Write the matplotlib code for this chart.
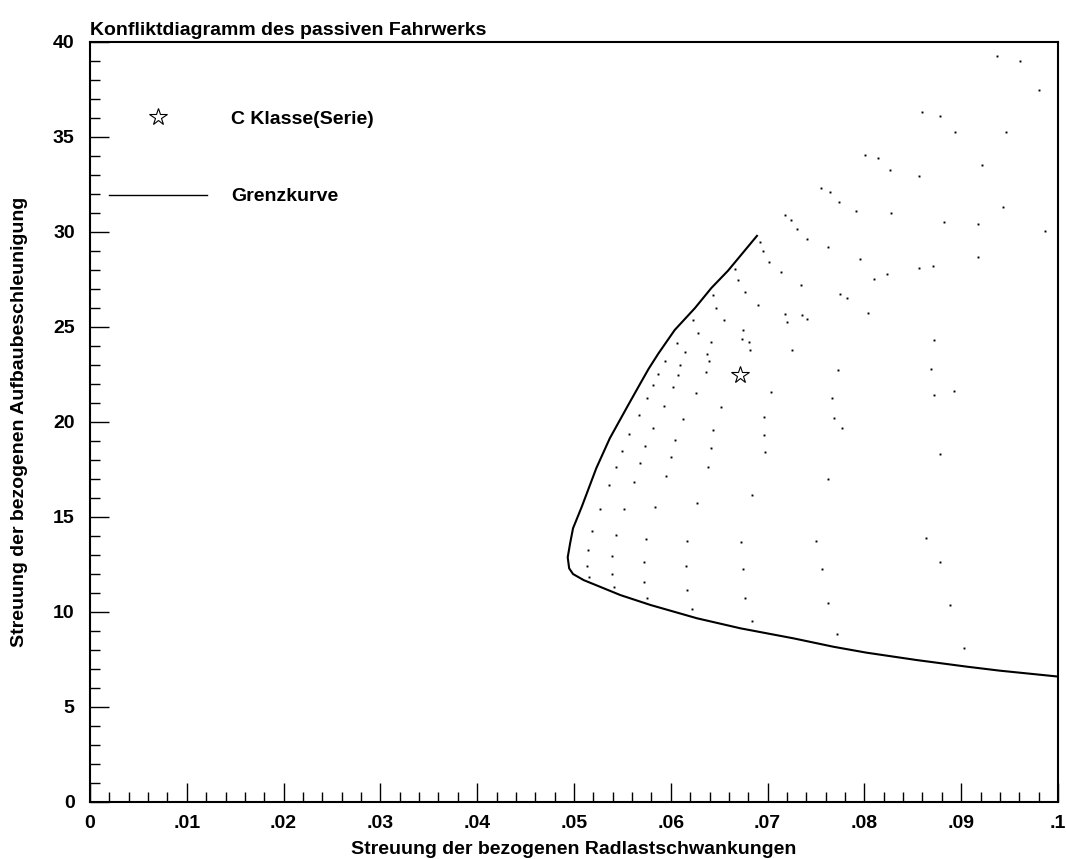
import matplotlib
matplotlib.use("Agg")
import matplotlib.pyplot as plt
from matplotlib.lines import Line2D
from matplotlib.ticker import MultipleLocator, FuncFormatter

plt.rcParams["font.family"] = ["Liberation Sans", "DejaVu Sans"]
plt.rcParams["font.weight"] = "bold"

# ── Data ─────────────────────────────────────────────────────────────────────
# Grenzkurve (limit curve)
curve_x = [0.0689, 0.0659, 0.0642, 0.0625, 0.0604, 0.0587, 0.0577, 0.0568,
           0.0556, 0.0537, 0.0523, 0.0508, 0.0499, 0.0496, 0.04935, 0.0495,
           0.0499, 0.0510, 0.0548, 0.0579, 0.0627, 0.0672, 0.0727, 0.0768,
           0.0802, 0.0854, 0.0906, 0.0940, 0.1000]
curve_y = [29.79, 27.95, 27.05, 25.99, 24.83, 23.58, 22.78, 21.97,
           20.88, 19.13, 17.55, 15.52, 14.39, 13.60, 12.86, 12.28,
           11.98, 11.66, 10.87, 10.35, 9.65, 9.12, 8.59, 8.15,
           7.84, 7.45, 7.10, 6.89, 6.58]

# C Klasse (Serie) operating point
serie_x = [0.0671]
serie_y = [22.46]

# scattered parameter variations (small dots)
dots_x = [0.09367, 0.09607, 0.09804, 0.08595, 0.08781, 0.08933, 0.09463, 0.08006,
          0.08144, 0.08264, 0.08564, 0.09218, 0.07549, 0.07645, 0.07734, 0.07913,
          0.08278, 0.08822, 0.09170, 0.09432, 0.09866, 0.07410, 0.07624, 0.07951,
          0.08561, 0.08709, 0.08237, 0.08099, 0.07348, 0.07748, 0.07823, 0.08040,
          0.07352, 0.07410, 0.08719, 0.07730, 0.08691, 0.08929, 0.08716, 0.07668,
          0.07686, 0.07772, 0.08784, 0.07627, 0.09170, 0.07500, 0.08633, 0.08778,
          0.07565, 0.07624, 0.08887, 0.07717, 0.09032, 0.07183, 0.07245, 0.07304,
          0.06918, 0.06956, 0.07014, 0.07138, 0.06666, 0.06697, 0.06767, 0.06433,
          0.06470, 0.06898, 0.07177, 0.07200, 0.06229, 0.06553, 0.06281, 0.06749,
          0.06739, 0.06061, 0.06418, 0.06808, 0.07255, 0.06815, 0.06150, 0.06377,
          0.06395, 0.05937, 0.06095, 0.05865, 0.06071, 0.06367, 0.05819, 0.06026,
          0.06257, 0.07035, 0.05757, 0.05927, 0.06519, 0.05668, 0.06126, 0.06963,
          0.05813, 0.06439, 0.05568, 0.06046, 0.06960, 0.05737, 0.06415, 0.06970,
          0.05493, 0.06002, 0.05685, 0.05434, 0.06387, 0.05950, 0.05620, 0.05358,
          0.06839, 0.06268, 0.05265, 0.05513, 0.05840, 0.05186, 0.05434, 0.05747,
          0.06167, 0.06725, 0.05148, 0.05396, 0.05723, 0.06157, 0.06743, 0.05134,
          0.05389, 0.05158, 0.05726, 0.05413, 0.06167, 0.05757, 0.06770, 0.06219,
          0.06839]
dots_y = [39.26, 38.99, 37.47, 36.29, 36.11, 35.24, 35.27, 34.04,
          33.87, 33.25, 32.94, 33.52, 32.31, 32.10, 31.57, 31.10,
          30.99, 30.53, 30.41, 31.31, 30.06, 29.62, 29.20, 28.57,
          28.09, 28.20, 27.76, 27.53, 27.20, 26.71, 26.50, 25.74,
          25.60, 25.39, 24.32, 22.72, 22.78, 21.63, 21.42, 21.23,
          20.19, 19.67, 18.30, 16.98, 28.66, 13.72, 13.86, 12.61,
          12.26, 10.44, 10.35, 8.84, 8.10, 30.90, 30.62, 30.16,
          29.46, 29.00, 28.43, 27.87, 28.03, 27.45, 26.83, 26.66,
          26.00, 26.16, 25.69, 25.25, 25.36, 25.36, 24.69, 24.84,
          24.36, 24.16, 24.20, 24.20, 23.78, 23.78, 23.65, 23.57,
          23.21, 23.21, 22.99, 22.51, 22.47, 22.62, 21.93, 21.81,
          21.51, 21.58, 21.23, 20.81, 20.77, 20.34, 20.14, 20.25,
          19.68, 19.56, 19.35, 19.05, 19.30, 18.70, 18.63, 18.42,
          18.46, 18.16, 17.83, 17.61, 17.63, 17.12, 16.81, 16.65,
          16.16, 15.72, 15.42, 15.42, 15.51, 14.23, 14.02, 13.84,
          13.73, 13.68, 13.24, 12.93, 12.61, 12.40, 12.24, 12.42,
          12.00, 11.82, 11.56, 11.30, 11.12, 10.73, 10.73, 10.14,
          9.52]

# ─────────────────────────────────────────────────────────────────────────────
fig = plt.figure(figsize=(10.66, 8.59), dpi=100)
ax = fig.add_axes([90 / 1066, 1 - 801.5 / 859, 968 / 1066, 759.5 / 859])

ax.plot(dots_x, dots_y, "s", color="black", ms=1.4, mew=0, zorder=2)
ax.plot(curve_x, curve_y, color="black", lw=1.5, zorder=3)
ax.plot(serie_x, serie_y, "*", ms=13, mfc="white", mec="black", mew=0.8,
        zorder=4)

ax.set_xlim(0, 0.1)
ax.set_ylim(0, 40)

ax.xaxis.set_major_locator(MultipleLocator(0.01))
ax.xaxis.set_minor_locator(MultipleLocator(0.002))
ax.yaxis.set_major_locator(MultipleLocator(5))
ax.yaxis.set_minor_locator(MultipleLocator(1))

def xfmt(v, pos):
    if abs(v) < 1e-9:
        return "0"
    return f"{v:.2f}".rstrip("0").lstrip("0")

ax.xaxis.set_major_formatter(FuncFormatter(xfmt))
ax.yaxis.set_major_formatter(FuncFormatter(lambda v, p: f"{v:.0f}"))

ax.tick_params(which="both", direction="in", top=False, right=False,
               width=1.0, labelsize=14)
ax.tick_params(axis="x", which="major", length=14, pad=9.5)
ax.tick_params(axis="y", which="major", length=13.5, pad=11)
ax.tick_params(which="minor", length=7)
for sp in ax.spines.values():
    sp.set_linewidth(1.5)

ax.set_xlabel("Streuung der bezogenen Radlastschwankungen", fontsize=14,
              fontweight="bold")
ax.xaxis.set_label_coords(0.5, -0.052)
ax.set_ylabel("Streuung der bezogenen Aufbaubeschleunigung", fontsize=14,
              fontweight="bold")
ax.yaxis.set_label_coords(-0.064, 0.5)

ax.set_title("Konfliktdiagramm des passiven Fahrwerks", loc="left",
             fontsize=14, fontweight="bold", pad=5)

handles = [
    Line2D([], [], ls="none", marker="*", ms=13, mfc="white", mec="black",
           mew=0.8),
    Line2D([], [], color="black", lw=1.0),
]
ax.legend(handles, ["C Klasse(Serie)", "Grenzkurve"],
          loc="upper left", bbox_to_anchor=(0.0201, 0.9098),
          frameon=False, handlelength=5.0, handletextpad=1.24,
          labelspacing=3.07, borderpad=0, borderaxespad=0,
          prop={"size": 14, "weight": "bold"})

fig.savefig("out.png", dpi=100)
